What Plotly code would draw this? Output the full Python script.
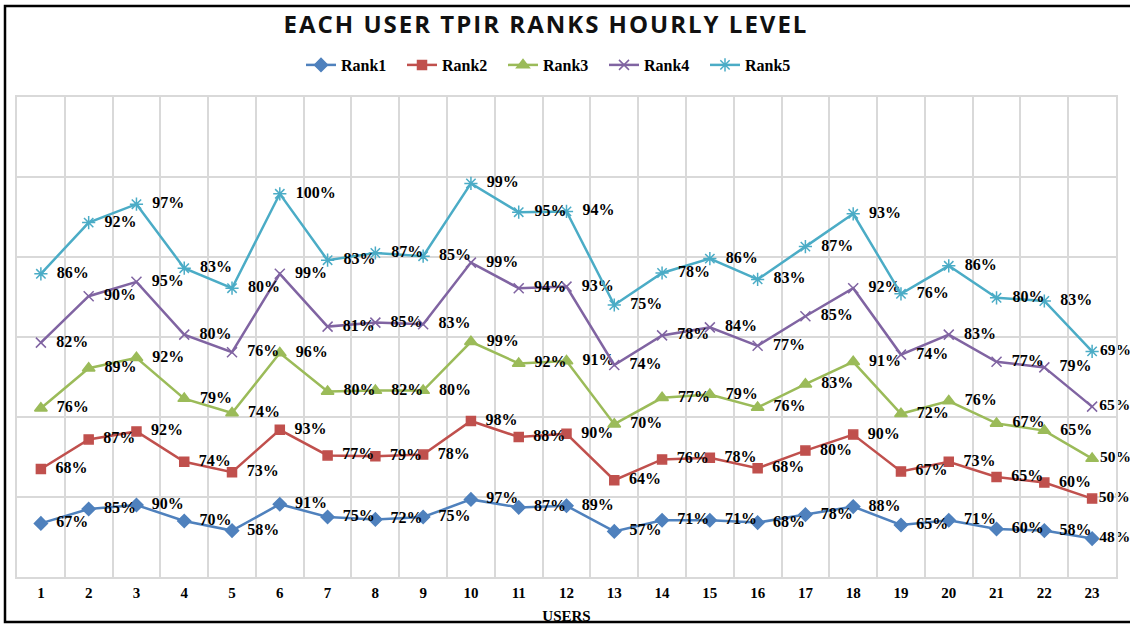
import plotly.graph_objects as go

users = [str(i) for i in range(1, 24)]
rank1 = [67, 85, 90, 70, 58, 91, 75, 72, 75, 97, 87, 89, 57, 71, 71, 68, 78, 88, 65, 71, 60, 58, 48]
rank2 = [68, 87, 92, 74, 73, 93, 77, 79, 78, 98, 88, 90, 64, 76, 78, 68, 80, 90, 67, 73, 65, 60, 50]
rank3 = [76, 89, 92, 79, 74, 96, 80, 82, 80, 99, 92, 91, 70, 77, 79, 76, 83, 91, 72, 76, 67, 65, 50]
rank4 = [82, 90, 95, 80, 76, 99, 81, 85, 83, 99, 94, 93, 74, 78, 84, 77, 85, 92, 74, 83, 77, 79, 65]
rank5 = [86, 92, 97, 83, 80, 100, 83, 87, 85, 99, 95, 94, 75, 78, 86, 83, 87, 93, 76, 86, 80, 83, 69]

series = [
    ("Rank1", rank1, "#4F81BD", "diamond", 10),
    ("Rank2", rank2, "#C0504D", "square", 9),
    ("Rank3", rank3, "#9BBB59", "triangle-up", 11),
    ("Rank4", rank4, "#8064A2", "x-thin-open", 10),
    ("Rank5", rank5, "#4BACC6", "asterisk-open", 11),
]

SERIF = "Liberation Serif, Times New Roman, serif"

W, H = 1130, 624
L, R, T, B = 17, 14, 97, 47
pw, ph = W - L - R, H - T - B

def label(i, v, n):
    pad = "" if i == n - 1 else "\u00a0\u00a0"
    return f"{pad}{v}%"

fig = go.Figure()
for name, vals, color, sym, size in series:
    n = len(vals)
    fig.add_trace(go.Scatter(
        x=users, y=vals, name=name, stackgroup="one", fill="none",
        mode="lines+markers+text",
        line=dict(color=color, width=2.5),
        marker=dict(symbol=sym, size=size, color=color, line=dict(color=color, width=1.5)),
        text=[label(i, v, n) for i, v in enumerate(vals)], textposition="middle right",
        textfont=dict(family=SERIF, size=[16] * (n - 1) + [15.5], color="black", weight="bold"),
        cliponaxis=False,
    ))

def px_x(p):
    return (p - L) / pw

def px_y(p):
    return (H - B - p) / ph

fig.add_shape(type="rect", xref="paper", yref="paper",
              x0=px_x(5), x1=px_x(1140), y0=px_y(622), y1=px_y(6),
              line=dict(color="black", width=2.5), layer="below")

fig.update_layout(
    width=W, height=H, autosize=False,
    margin=dict(l=L, r=R, t=T, b=B, autoexpand=False),
    paper_bgcolor="white", plot_bgcolor="white",
    title=dict(
        text='<span style="letter-spacing:2px">EACH USER TPIR RANKS HOURLY LEVEL</span>',
        x=546 / W, xanchor="center", y=1 - 25 / H, yanchor="middle",
        font=dict(family="Open Sans, sans-serif", size=24, color="#111111", weight="bold"),
    ),
    legend=dict(
        orientation="h", x=px_x(301), xanchor="left", y=px_y(65), yanchor="middle",
        font=dict(family=SERIF, size=16, color="black", weight="bold"),
        entrywidth=56, entrywidthmode="pixels", bgcolor="rgba(0,0,0,0)",
    ),
    showlegend=True,
)
fig.update_xaxes(
    type="category", range=[-0.5, 22.5], tickson="boundaries", automargin=False,
    showgrid=True, gridcolor="#d9d9d9", gridwidth=1.5,
    showline=True, linecolor="#d9d9d9", linewidth=1.5, mirror=True,
    ticks="", ticklabelstandoff=1,
    tickfont=dict(family=SERIF, size=15, color="black", weight="bold"),
    title=dict(text="USERS", standoff=12,
               font=dict(family=SERIF, size=15, color="black", weight="bold")),
    zeroline=False,
)
fig.update_yaxes(
    range=[0, 600], dtick=100, showticklabels=False, automargin=False,
    showgrid=True, gridcolor="#d9d9d9", gridwidth=1.5,
    showline=True, linecolor="#d9d9d9", linewidth=1.5, mirror=True,
    zeroline=False, ticks="",
)

fig.write_html(
    "out.html",
    config={"responsive": False, "displayModeBar": False},
    post_script="document.documentElement.style.overflow='hidden';document.body.style.overflow='hidden';document.body.style.margin='0';",
)
